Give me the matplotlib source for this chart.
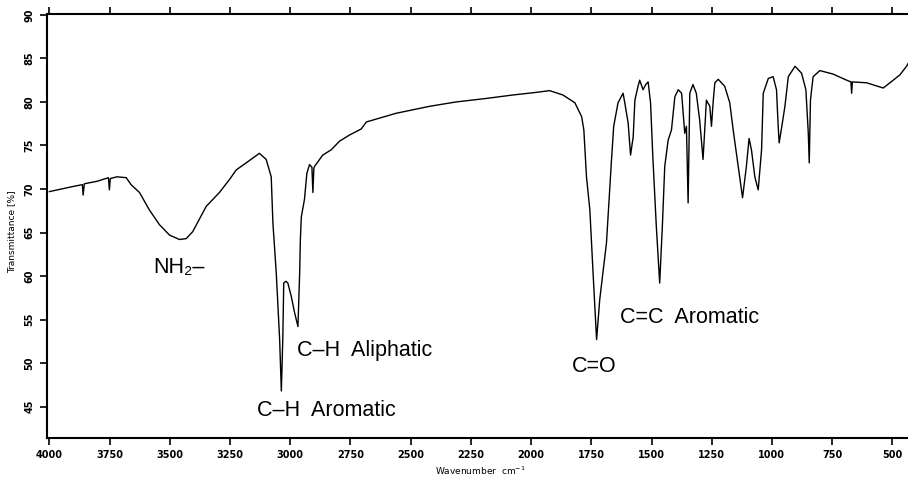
import matplotlib
matplotlib.use("Agg")
import matplotlib.pyplot as plt

# Wavenumber (cm-1) and transmittance (%)
wavenumber = [4000, 3950, 3900, 3863, 3860, 3855, 3800, 3755, 3751, 3747, 3720, 3681, 3661,
              3626, 3585, 3543, 3501, 3460, 3432, 3405, 3349, 3294, 3252, 3224, 3183, 3128,
              3100, 3079, 3072, 3058, 3044, 3037, 3031, 3027, 3018, 3010, 2996, 2982, 2968,
              2961, 2958, 2954, 2941, 2931, 2920, 2910, 2906, 2902, 2899, 2865, 2830, 2795,
              2754, 2705, 2684, 2560, 2421, 2311, 2186, 2075, 1978, 1923, 1868, 1818, 1790,
              1781, 1770, 1756, 1742, 1728, 1715, 1687, 1666, 1657, 1639, 1618, 1611, 1597,
              1587, 1576, 1569, 1556, 1549, 1535, 1524, 1514, 1504, 1494, 1480, 1466, 1455,
              1445, 1431, 1417, 1403, 1389, 1375, 1362, 1355, 1348, 1341, 1328, 1314, 1300,
              1286, 1272, 1258, 1251, 1244, 1237, 1223, 1196, 1175, 1161, 1140, 1122, 1106,
              1095, 1085, 1071, 1057, 1043, 1036, 1015, 995, 981, 974, 970, 960, 946, 932,
              904, 877, 859, 849, 845, 840, 829, 801, 746, 690, 672, 669, 666, 607, 538, 510,
              469, 441, 435]
transmittance = [69.7, 70.0, 70.3, 70.5, 69.3, 70.6, 70.9, 71.3, 69.9, 71.2, 71.4, 71.3, 70.5,
                 69.6, 67.6, 65.9, 64.7, 64.2, 64.3, 65.1, 68.0, 69.6, 71.1, 72.2, 73.0, 74.1,
                 73.4, 71.4, 66.1, 60.3, 52.7, 46.8, 52.7, 59.2, 59.4, 59.2, 57.7, 55.8, 54.2,
                 60.3, 64.2, 66.8, 68.8, 71.8, 72.8, 72.5, 69.6, 72.4, 72.6, 73.9, 74.5, 75.5,
                 76.2, 76.9, 77.7, 78.7, 79.5, 80.0, 80.4, 80.8, 81.1, 81.3, 80.8, 79.9, 78.3,
                 76.8, 71.4, 67.6, 60.0, 52.7, 57.3, 63.8, 73.4, 77.2, 79.9, 81.0, 79.9, 77.6,
                 73.9, 76.0, 80.2, 81.8, 82.5, 81.4, 82.0, 82.3, 79.9, 73.4, 65.7, 59.2, 65.7,
                 72.6, 75.6, 76.8, 80.6, 81.4, 81.0, 76.4, 77.2, 68.4, 81.0, 82.0, 81.0, 77.9,
                 73.4, 80.2, 79.5, 77.2, 80.0, 82.2, 82.6, 81.8, 79.9, 76.8, 72.6, 69.0, 72.6,
                 75.8, 74.5, 71.4, 69.9, 74.5, 81.0, 82.7, 82.9, 81.4, 77.2, 75.3, 77.0, 79.5, 82.9,
                 84.1, 83.3, 81.4, 76.4, 73.0, 80.2, 82.9, 83.6, 83.2, 82.5, 82.3, 81.0, 82.3, 82.2,
                 81.6, 82.2, 83.1, 84.1, 84.4]

x_ticks = [4000, 3750, 3500, 3250, 3000, 2750, 2500, 2250, 2000, 1750, 1500, 1250, 1000, 750, 500]
y_ticks = [45, 50, 55, 60, 65, 70, 75, 80, 85, 90]

annotations = ["NH\u2082\u2013", "C\u2013H  Aliphatic", "C\u2013H  Aromatic", "C=O", "C=C  Aromatic"]
annot_x = [3460, 2974, 3136, 1831, 1632]
annot_y = [61.0, 51.5, 44.6, 49.6, 55.2]
annot_ha = ["center", "left", "left", "left", "left"]

fig = plt.figure(figsize=(9.08, 4.78), dpi=100)
ax = fig.add_axes([47 / 908, 1 - 438 / 478, 1 - 47 / 908, (438 - 14) / 478])

ax.plot(wavenumber, transmittance, color="black", linewidth=1.0)

ax.set_xlim(4010, 435)
ax.set_ylim(41.4, 90.1)
ax.set_xticks(x_ticks)
ax.set_yticks(y_ticks)
ax.set_xticklabels([str(v) for v in x_ticks], fontsize=7, fontweight="bold")
ax.set_yticklabels([str(v) for v in y_ticks], fontsize=7, fontweight="bold",
                   rotation=90, va="center")

ax.spines["right"].set_visible(False)
for s in ["left", "top", "bottom"]:
    ax.spines[s].set_linewidth(1.5)
ax.tick_params(axis="both", direction="out", length=5, width=1.2, pad=4)
ax.tick_params(axis="x", top=True, labeltop=False)

for txt, xv, yv, ha in zip(annotations, annot_x, annot_y, annot_ha):
    ax.text(xv, yv, txt, fontsize=15.5, ha=ha, va="center", family="Liberation Sans")

fig.text(12 / 908, 1 - 232 / 478, "Transmittance [%]", rotation=90, fontsize=6.5,
         ha="center", va="center")
fig.text(480 / 908, 1 - 471 / 478, "Wavenumber  cm$^{-1}$", fontsize=6.5,
         ha="center", va="center")

fig.savefig("out.png", dpi=100)
